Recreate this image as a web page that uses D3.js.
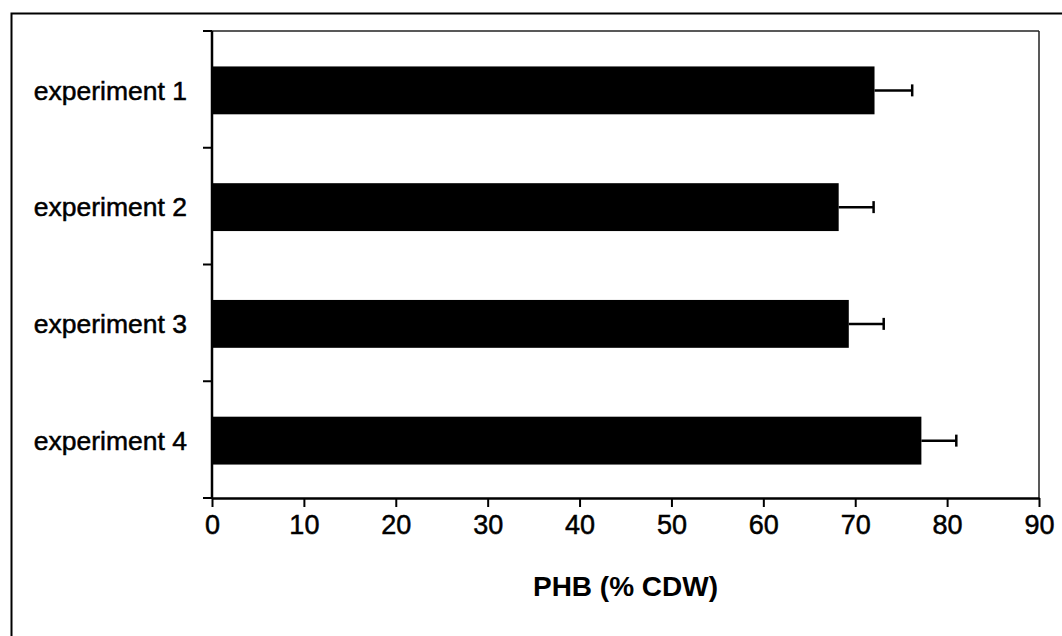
<!DOCTYPE html>
<html><head><meta charset="utf-8">
<script src="https://cdn.jsdelivr.net/npm/d3@7"></script>
<style>body{margin:0;background:#fff}svg{display:block}</style>
</head><body>
<script>
const categories = ["experiment 1","experiment 2","experiment 3","experiment 4"];
const values = [72.1, 68.2, 69.3, 77.2];
const errors = [4.1, 3.8, 3.8, 3.8];
const xTicks = [0,10,20,30,40,50,60,70,80,90];
const xTitle = "PHB (% CDW)";

const W=1062,H=636;
const L=212,R=1039,T=31,B=498;
const svg=d3.select("body").append("svg").attr("width",W).attr("height",H);
const font="Liberation Sans, Arial, sans-serif";

// outer frame (left & top visible)
svg.append("rect").attr("x",11.5).attr("y",13.5).attr("width",1200).attr("height",800)
  .attr("fill","none").attr("stroke","#000").attr("stroke-width",2);

const x=d3.scaleLinear().domain([0,90]).range([L,R]);
const y=d3.scaleBand().domain(categories).range([T,B]).paddingInner(0).paddingOuter(0);

// plot box top/right
svg.append("line").attr("x1",L).attr("x2",R).attr("y1",T).attr("y2",T).attr("stroke","#222").attr("stroke-width",1.5);
svg.append("line").attr("x1",R).attr("x2",R).attr("y1",T).attr("y2",B).attr("stroke","#222").attr("stroke-width",1.5);

// bars
const bh=y.bandwidth()*0.41;
svg.selectAll("rect.bar").data(categories).enter().append("rect").attr("class","bar")
  .attr("x",x(0)).attr("y",d=>y(d)+y.bandwidth()/2-bh/2+1)
  .attr("width",(d,i)=>x(values[i])-x(0)).attr("height",bh).attr("fill","#000");

// error bars
const eg=svg.selectAll("g.err").data(categories).enter().append("g").attr("class","err");
eg.append("line").attr("x1",(d,i)=>x(values[i])).attr("x2",(d,i)=>x(values[i]+errors[i]))
  .attr("y1",d=>y(d)+y.bandwidth()/2+1).attr("y2",d=>y(d)+y.bandwidth()/2+1)
  .attr("stroke","#000").attr("stroke-width",2.5);
eg.append("line").attr("x1",(d,i)=>x(values[i]+errors[i])).attr("x2",(d,i)=>x(values[i]+errors[i]))
  .attr("y1",d=>y(d)+y.bandwidth()/2+1-6).attr("y2",d=>y(d)+y.bandwidth()/2+1+6)
  .attr("stroke","#000").attr("stroke-width",2.5);

// x axis
const xa=svg.append("g").attr("transform",`translate(0,${B})`)
  .call(d3.axisBottom(x).tickValues(xTicks).tickSize(9).tickSizeOuter(0).tickPadding(8).tickFormat(d3.format("d")));
xa.select(".domain").attr("stroke-width",2.5);
xa.selectAll(".tick line").attr("stroke-width",2);
xa.selectAll("text").attr("font-family",font).attr("font-size",27).attr("fill","#000")
  .attr("stroke","#000").attr("stroke-width",0.5);

// y axis: ticks at category boundaries
const bounds=categories.map(c=>y(c)).concat([B]);
svg.append("line").attr("x1",L).attr("x2",L).attr("y1",T).attr("y2",B).attr("stroke","#000").attr("stroke-width",2.5);
svg.selectAll("line.yt").data(bounds).enter().append("line").attr("class","yt")
  .attr("x1",L-9).attr("x2",L).attr("y1",d=>d).attr("y2",d=>d).attr("stroke","#000").attr("stroke-width",2);
svg.selectAll("text.yl").data(categories).enter().append("text").attr("class","yl")
  .attr("x",L-25).attr("y",d=>y(d)+y.bandwidth()/2+1).attr("dy","0.35em")
  .attr("text-anchor","end").attr("font-family",font).attr("font-size",26.5)
  .attr("stroke","#000").attr("stroke-width",0.5).text(d=>d);

svg.append("text").attr("x",(L+R)/2).attr("y",596).attr("text-anchor","middle")
  .attr("font-family",font).attr("font-weight","bold").attr("font-size",28).text(xTitle);
</script>
</body></html>
